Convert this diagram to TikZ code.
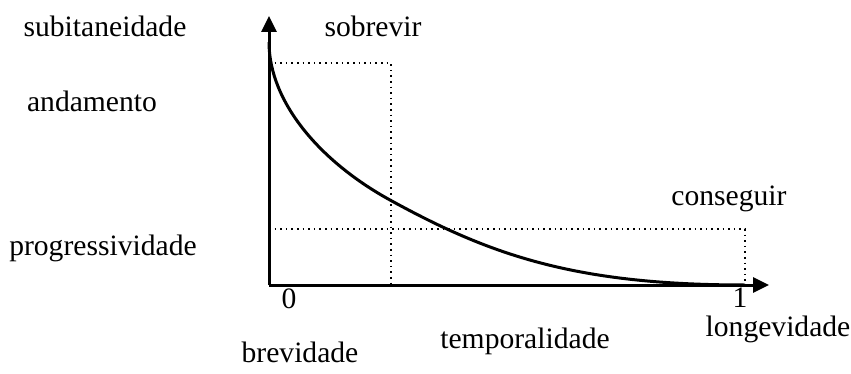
\documentclass[tikz,border=0pt]{standalone}
\usepackage{fontspec}
\setmainfont{Liberation Serif}
\usetikzlibrary{arrows.meta,positioning,calc}

\begin{document}
\begin{tikzpicture}[
  x=0.5pt, y=-0.5pt,
  every node/.style={font=\fontsize{14.8}{17}\selectfont, inner sep=0pt, anchor=base},
  axis/.style={line width=1.5pt, -{Triangle[length=8pt,width=7.5pt]}},
  guide/.style={line width=0.8pt, dotted},
  decay/.style={line width=1.5pt}
]
\useasboundingbox (0,0) rectangle (851,374);

% axes
\coordinate (o) at (269,285);
\coordinate (ytop) at (269,16);
\coordinate (xend) at (769,285);
\draw[axis] (o) -- (ytop);
\draw[axis] (o) -- (xend);

% dotted guides
\coordinate (p1) at (269,63);
\coordinate (p2) at (391,63);
\coordinate (p3) at (391,285);
\coordinate (q1) at (269,229);
\coordinate (q2) at (745,229);
\coordinate (q3) at (745,285);
\draw[guide] (p1) -- (p2) -- (p3);
\draw[guide] (q1) -- (q2) -- (q3);

% curve
\coordinate (c0) at (269,42);
\coordinate (c1) at (390,200);
\coordinate (c2) at (745,285);
\draw[decay] (c0) .. controls (269,102) and (320,161.5) .. (c1)
  .. controls (490,255) and (575,285) .. (c2);

% labels
\node (subitaneidade) at (105,37) {subitaneidade};
\node (sobrevir) at (373,37) {sobrevir};
\node (andamento) at (92,112) {andamento};
\node (conseguir) at (729,205) {conseguir};
\node (progressividade) at (103,255) {progressividade};
\node (zero) at (289,308) {0};
\node (one) at (740,307) {1};
\node (longevidade) at (778,336) {longevidade};
\node (temporalidade) at (525,348) {temporalidade};
\node (brevidade) at (300,362) {brevidade};
\end{tikzpicture}
\end{document}
